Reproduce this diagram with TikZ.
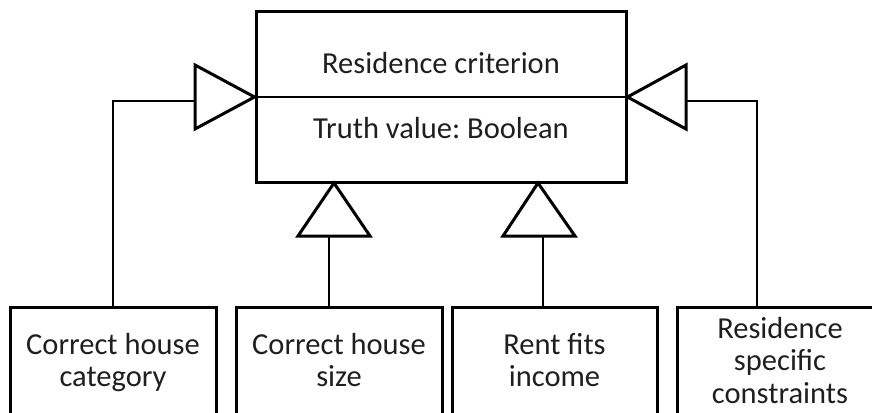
\documentclass[tikz,border=0pt]{standalone}
\usepackage{fontspec}
\setmainfont{Carlito}
\frenchspacing
\begin{document}
\begin{tikzpicture}[x=1pt,y=-1pt,
  box/.style={draw,line width=3pt,inner sep=0pt},
  conn/.style={draw,line width=1.8pt},
  tri/.style={draw,line width=3pt,fill=white,line join=miter},
  lbl/.style={anchor=base,inner sep=0pt,text=black!88,font=\fontsize{30.5}{36}\selectfont}]
\useasboundingbox (0,0) rectangle (872,412);
\clip (0,0) rectangle (872,412);

% generalised criterion
\node[box,minimum width=370pt,minimum height=170pt] (crit) at (441,97) {};
\draw[line width=1.8pt] (crit.west) -- (crit.east);
\node[lbl] (critname) at (441,74) {Residence criterion};
\node[lbl] (critattr) at (441,138) {Truth value: Boolean};

% specialised criteria
\node[box,minimum width=206pt,minimum height=140pt] (cat) at (113,377) {};
\node[box,minimum width=206pt,minimum height=140pt] (size) at (339,377) {};
\node[box,minimum width=205pt,minimum height=140pt] (rent) at (554.5,377) {};
\node[box,minimum width=206pt,minimum height=140pt] (spec) at (780,377) {};

\node[lbl] (catA) at (113,354) {Correct house};
\node[lbl] (catB) at (113,386) {category};
\node[lbl] (sizeA) at (339,354) {Correct house};
\node[lbl] (sizeB) at (339,386) {size};
\node[lbl] (rentA) at (554.5,354) {Rent fits};
\node[lbl] (rentB) at (554.5,386) {income};
\node[lbl] (specA) at (780,338) {Residence};
\node[lbl] (specB) at (780,370) {specific};
\node[lbl] (specC) at (780,403) {constraints};

% generalisation arrow bases
\coordinate (tl) at (195,101);
\coordinate (tr) at (686,101);
\coordinate (t2) at (329,236);
\coordinate (t3) at (543,236);

% connectors
\draw[conn] (cat.north) |- (tl);
\draw[conn] (spec.north -| 757,0) |- (tr);
\draw[conn] (size.north -| t2) -- (t2);
\draw[conn] (rent.north -| t3) -- (t3);

% hollow triangle heads
\draw[tri] (crit.west) -- (195,65) -- (195,129) -- cycle;
\draw[tri] (crit.east) -- (686,65) -- (686,129) -- cycle;
\draw[tri] (334,183) -- (298,236) -- (370,236) -- cycle;
\draw[tri] (538,183) -- (503,236) -- (575,236) -- cycle;
\end{tikzpicture}
\end{document}
